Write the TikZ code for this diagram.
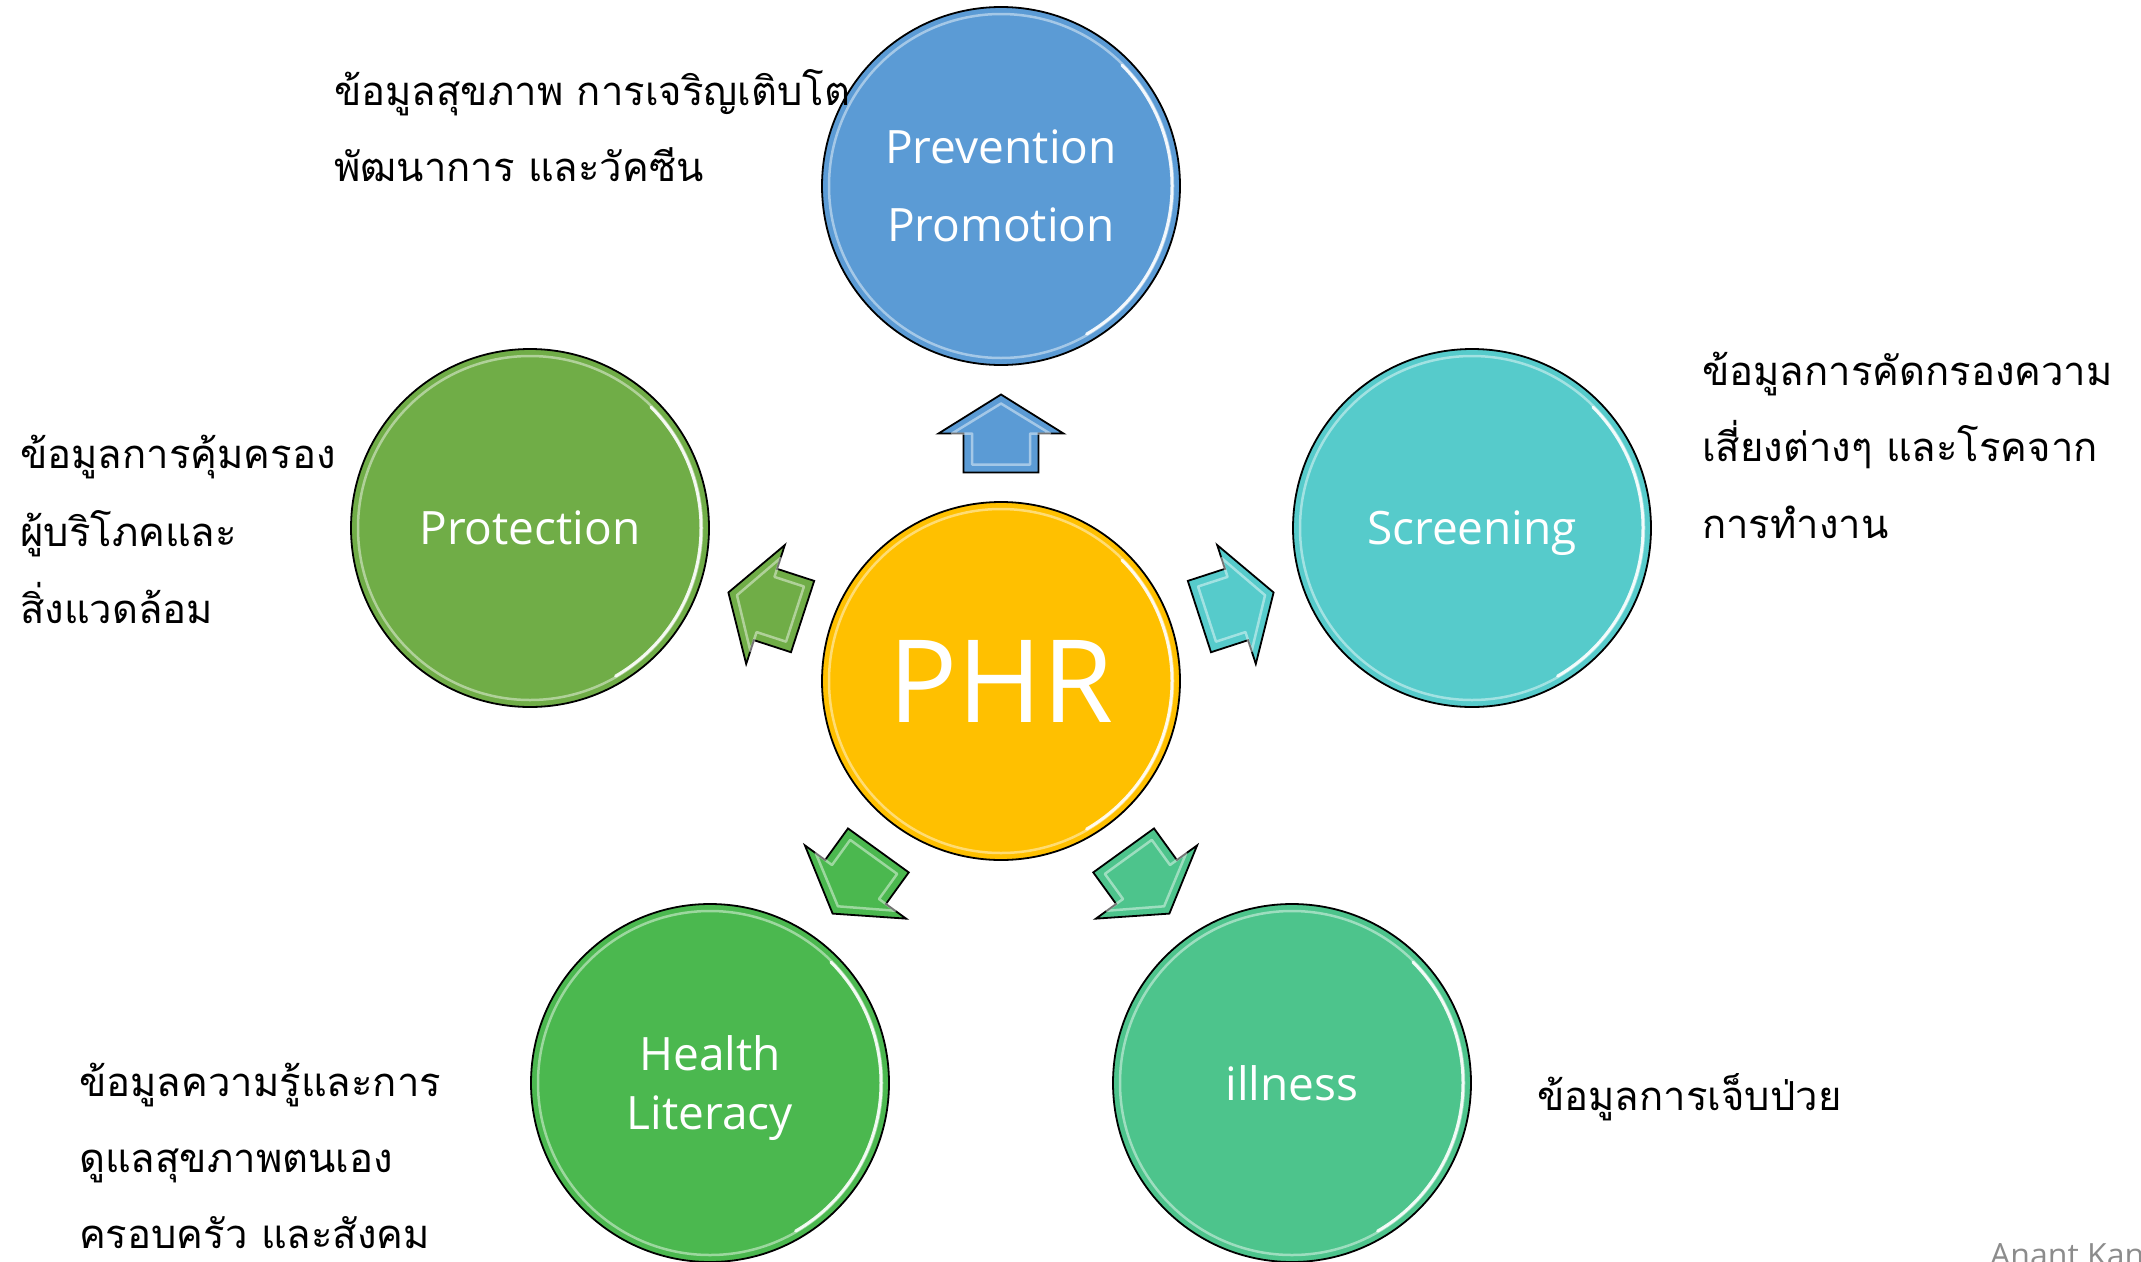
\documentclass[tikz,border=0pt]{standalone}
\usepackage{fontspec}
\setmainfont{Open Sans}
\newfontfamily\thaifont[Script=Thai]{Loma}
\usetikzlibrary{calc}
\definecolor{cPrev}{HTML}{5B9BD5}
\definecolor{cPhr}{HTML}{FFC000}
\definecolor{cProt}{HTML}{70AD47}
\definecolor{cScr}{HTML}{56CBCB}
\definecolor{cHl}{HTML}{4BB84F}
\definecolor{cIll}{HTML}{4DC48C}
\definecolor{cSig}{HTML}{8C8C8C}
\tikzset{
  ball/.style={circle, draw=black, line width=1.8pt, minimum size=358pt, inner sep=0pt,
    text=white, align=center, text depth=0pt, font=\fontsize{46}{78}\selectfont},
  blockarrow/.style={draw=black, line width=1.8pt, line join=miter},
  bevel/.style={draw=white, opacity=.45, line width=2.5pt, line join=round},
  thai/.style={anchor=base west, inner sep=0pt, font=\thaifont\fontsize{40}{48}\selectfont},
  rim/.style={white, opacity=.45, line width=2.5pt},
  shine/.style={white, opacity=.9, line width=3pt, line cap=round}
}
\newcommand{\arrowpath}[6]{% #1 target, #2 prefix, #3 tip, #4 barb, #5 shaft half, #6 tail
  ($(#2m)!#3!(#1)$) -- ($(#2m)!#4!90:(#1)$) -- ($(#2m)!#5!90:(#1)$)
    -- ($($(#2m)!#6!180:(#1)$)!#5!90:(#2m)$) -- ($($(#2m)!#6!180:(#1)$)!#5!-90:(#2m)$)
    -- ($(#2m)!#5!-90:(#1)$) -- ($(#2m)!#4!-90:(#1)$) -- cycle}
\newcommand{\phrarrow}[3]{%
  \coordinate (#2m) at ($(phr)!0.5!(#1)$);
  \draw[blockarrow, fill=#3] \arrowpath{#1}{#2}{39pt}{62.5pt}{37.5pt}{39pt};
  \draw[bevel] \arrowpath{#1}{#2}{30pt}{49pt}{29pt}{31pt};
}
\begin{document}
\begin{tikzpicture}[x=1pt,y=-1pt]
\useasboundingbox (0,0) rectangle (2141,1261);
\fill[white] (0,0) rectangle (2141,1261);

\node[ball, fill=cPrev] (prev) at (1001,186) {Prevention\\Promotion};
\node[ball, fill=cPhr, font=\fontsize{115}{120}\selectfont] (phr) at (1001,681) {PHR};
\node[ball, fill=cProt] (prot) at (530,528) {Protection};
\node[ball, fill=cScr] (scr) at (1472,528) {Screening};
\node[ball, fill=cHl, font=\fontsize{46}{59}\selectfont] (hl) at (710,1083) {Health\\Literacy};
\node[ball, fill=cIll] (ill) at (1292,1083) {illness};

\foreach \n in {prev,phr,prot,scr,hl,ill}{
  \draw[rim] (\n.center) circle[radius=172pt];
  \draw[shine] ([shift={(-60:171pt)}]\n.center) arc[start angle=-60, end angle=45, radius=171pt];
}

\phrarrow{prev}{aup}{cPrev}
\phrarrow{prot}{alf}{cProt}
\phrarrow{scr}{art}{cScr}
\phrarrow{hl}{adl}{cHl}
\phrarrow{ill}{adr}{cIll}

\node[thai] (t1a) at (334,105) {ข้อมูลสุขภาพ การเจริญเติบโต};
\node[thai] (t1b) at (334,181) {พัฒนาการ และวัคซีน};

\node[thai] (t2a) at (20,468) {ข้อมูลการคุ้มครอง};
\node[thai] (t2b) at (20,546) {ผู้บริโภคและ};
\node[thai] (t2c) at (20,623) {สิ่งแวดล้อม};

\node[thai] (t3a) at (1702,385) {ข้อมูลการคัดกรองความ};
\node[thai] (t3b) at (1702,461) {เสี่ยงต่างๆ และโรคจาก};
\node[thai] (t3c) at (1702,538) {การทำงาน};

\node[thai] (t4a) at (79,1096) {ข้อมูลความรู้และการ};
\node[thai] (t4b) at (79,1172) {ดูแลสุขภาพตนเอง};
\node[thai] (t4c) at (79,1248) {ครอบครัว และสังคม};

\node[thai] (t5a) at (1537,1110) {ข้อมูลการเจ็บป่วย};

\node[anchor=base west, inner sep=0pt, text=cSig, font=\fontsize{32}{36}\selectfont] (sig) at (1990,1266) {Anant Kan};
\end{tikzpicture}
\end{document}
